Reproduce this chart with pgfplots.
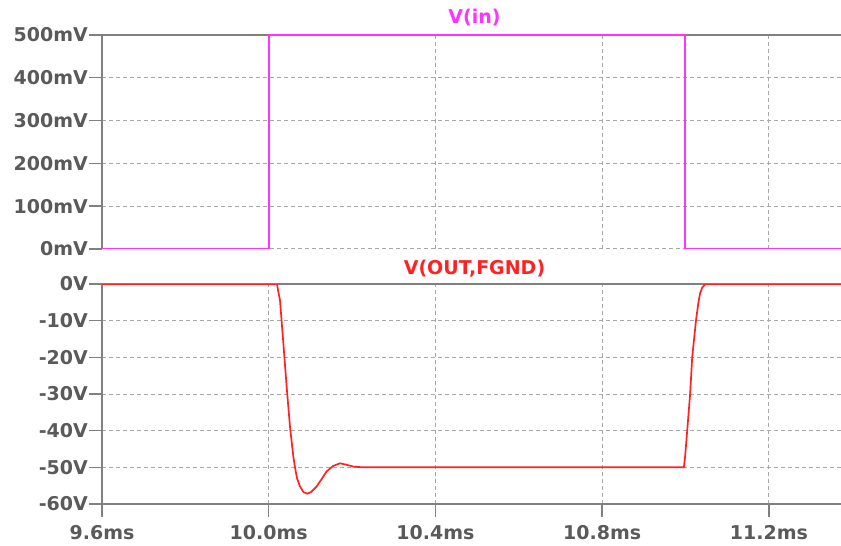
\documentclass[border=0pt]{standalone}
\usepackage{fontspec}
\setmainfont{DejaVu Sans}
\usepackage{pgfplots}
\pgfplotsset{compat=1.18}
\definecolor{mag}{HTML}{FF33FF}
\definecolor{rd}{HTML}{FF2222}
\definecolor{axgray}{HTML}{808080}
\definecolor{txtgray}{HTML}{5A5A5A}
\definecolor{gridgray}{HTML}{A8A8A8}
\begin{document}
\begin{tikzpicture}
\pgfplotsset{
 common/.style={
  scale only axis, width=739pt,
  xmin=9.6, xmax=11.373,
  xtick={9.6,10.0,10.4,10.8,11.2},
  grid=major,
  major grid style={gridgray, dash pattern=on 4pt off 3pt, line width=1pt},
  axis line style={axgray, line width=1.4pt, -},
  tick style={axgray, line width=1.4pt},
  major tick length=13pt,
  every tick label/.append style={font=\fontsize{19}{20}\selectfont\bfseries, text=txtgray},
  yticklabel style={inner sep=1pt},
  title style={font=\fontsize{19}{20}\selectfont\bfseries, at={(axis description cs:0.5,1)}, anchor=center, xshift=3pt},
 }
}
% top pane
\begin{axis}[common,
  at={(102pt,297pt)}, anchor=south west, height=214pt,
  ymin=0, ymax=500,
  axis x line*=top, axis y line*=left,
  tick align=outside,
  ytick={0,100,200,300,400,500},
  yticklabels={0mV,100mV,200mV,300mV,400mV,500mV},
  xticklabels={}, xtick style={draw=none},
  title={\color{mag}V(in)}, title style={yshift=11pt},
]
\addplot[mag, line width=1.7pt] coordinates {(9.6,0) (10.0,0) (10.0,500) (10.998,500) (10.998,0) (11.373,0)};
\end{axis}
% bottom pane
\begin{axis}[common,
  at={(102pt,42pt)}, anchor=south west, height=220pt,
  ymin=-60, ymax=0,
  axis x line*=box, axis y line*=left,
  xtick pos=left, tick align=outside,
  ytick={-60,-50,-40,-30,-20,-10,0},
  yticklabels={-60V,-50V,-40V,-30V,-20V,-10V,0V},
  xticklabels={9.6ms,10.0ms,10.4ms,10.8ms,11.2ms},
  xticklabel style={yshift=-5pt},
  title={\color{rd}V(OUT,FGND)}, title style={yshift=9pt},
]
\addplot[rd, line width=1.7pt] coordinates {
(9.6,0) (10.0,0) (10.020,0) (10.022,-1.5) (10.027,-4.4) (10.035,-16) (10.043,-28)
(10.051,-38.9) (10.059,-47) (10.063,-50) (10.068,-53) (10.075,-55.2) (10.083,-56.7)
(10.0925,-57.2) (10.102,-56.7) (10.115,-55.2) (10.127,-53.2) (10.139,-51.1)
(10.155,-49.6) (10.171,-48.9) (10.187,-49.3) (10.203,-49.8) (10.227,-50)
(10.996,-50) (10.999,-47) (11.004,-40) (11.011,-30) (11.016,-20) (11.025,-10)
(11.031,-5) (11.035,-2.5) (11.040,-1) (11.046,-0.2) (11.050,0) (11.373,0)};
\end{axis}
\pgfresetboundingbox
\useasboundingbox (0pt,0pt) rectangle (841pt,546pt);
\end{tikzpicture}
\end{document}
